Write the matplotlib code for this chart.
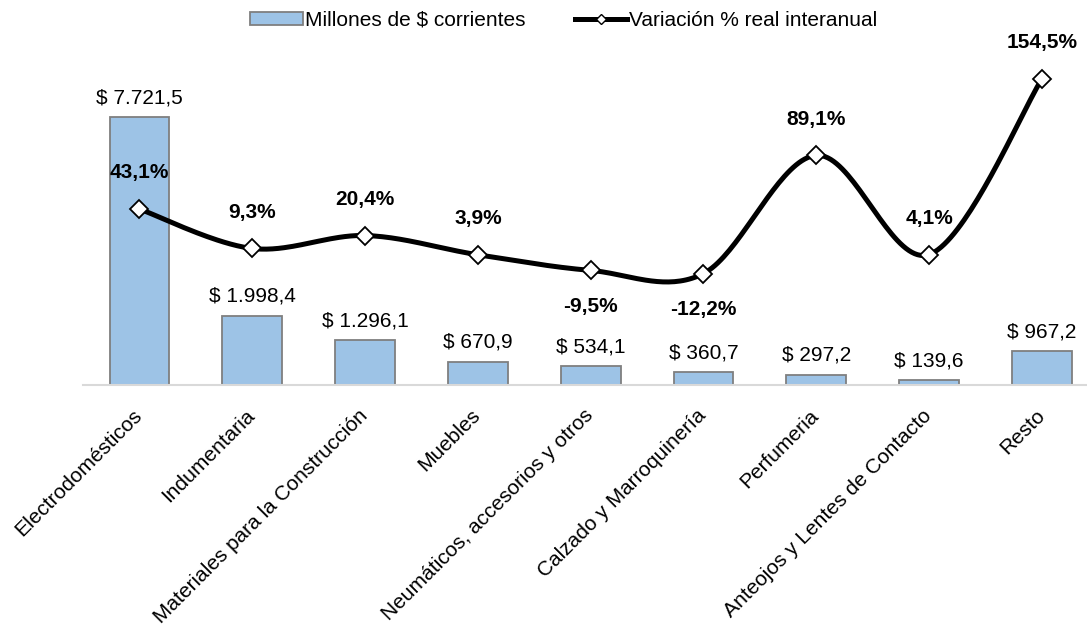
import numpy as np
import matplotlib
matplotlib.use("Agg")
import matplotlib.pyplot as plt
import matplotlib.transforms as mtransforms
from matplotlib.patches import Patch
from matplotlib.lines import Line2D

plt.rcParams["font.family"] = ["Liberation Sans", "DejaVu Sans"]

categories = ["Electrodomésticos", "Indumentaria", "Materiales para la Construcción",
              "Muebles", "Neumáticos, accesorios y otros", "Calzado y Marroquinería",
              "Perfumeria", "Anteojos y Lentes de Contacto", "Resto"]
millones = [7721.5, 1998.4, 1296.1, 670.9, 534.1, 360.7, 297.2, 139.6, 967.2]
variacion = [43.1, 9.3, 20.4, 3.9, -9.5, -12.2, 89.1, 4.1, 154.5]

bar_labels = ["$ 7.721,5", "$ 1.998,4", "$ 1.296,1", "$ 670,9", "$ 534,1",
              "$ 360,7", "$ 297,2", "$ 139,6", "$ 967,2"]
var_labels = ["43,1%", "9,3%", "20,4%", "3,9%", "-9,5%", "-12,2%", "89,1%", "4,1%", "154,5%"]
var_below = [False, False, False, False, True, True, False, False, False]

FS = 15


def smooth(xs, ys, n=40):
    # Excel-like smoothed line: cubic bezier with Catmull-Rom control points
    xs = np.asarray(xs, float)
    ys = np.asarray(ys, float)
    px = np.concatenate([[xs[0]], xs, [xs[-1]]])
    py = np.concatenate([[ys[0]], ys, [ys[-1]]])
    out_x, out_y = [], []
    t = np.linspace(0, 1, n)
    for i in range(1, len(px) - 2):
        p0 = np.array([px[i], py[i]])
        p3 = np.array([px[i + 1], py[i + 1]])
        c1 = p0 + (np.array([px[i + 1], py[i + 1]]) - np.array([px[i - 1], py[i - 1]])) / 6
        c2 = p3 - (np.array([px[i + 2], py[i + 2]]) - np.array([px[i], py[i]])) / 6
        b = ((1 - t) ** 3)[:, None] * p0 + (3 * (1 - t) ** 2 * t)[:, None] * c1 \
            + (3 * (1 - t) * t ** 2)[:, None] * c2 + (t ** 3)[:, None] * p3
        out_x.extend(b[:, 0])
        out_y.extend(b[:, 1])
    return out_x, out_y


fig = plt.figure(figsize=(10.87, 6.26), dpi=100)
ax = fig.add_axes([83 / 1087, 1 - 385 / 626, 1 - 83 / 1087, 325 / 626])
x = np.arange(len(categories))

ax.bar(x, millones, width=0.53, color="#9DC3E6", edgecolor="#7F7F7F", linewidth=1.3, zorder=2)
ax.set_ylim(0, 9366)
ax.set_xlim(-0.5, 8.4)
for xi, v, lab in zip(x, millones, bar_labels):
    ax.annotate(lab, (xi, v), xytext=(0, 7), textcoords="offset points",
                ha="center", va="bottom", fontsize=FS)

ax.set_yticks([])
for s in ["top", "right", "left"]:
    ax.spines[s].set_visible(False)
ax.spines["bottom"].set_color("#D9D9D9")
ax.spines["bottom"].set_linewidth(1.5)
ax.set_xticks(x)
ax.set_xticklabels(categories, rotation=45, ha="right", rotation_mode="anchor", fontsize=FS)
ax.tick_params(axis="x", length=0, pad=15)
shift = mtransforms.ScaledTranslation(-7 / 100, 0, fig.dpi_scale_trans)
for lbl in ax.get_xticklabels():
    lbl.set_transform(lbl.get_transform() + shift)

ax2 = ax.twinx()
ax2.set_ylim(-107.7, 170.8)
ax2.set_yticks([])
for s in ax2.spines.values():
    s.set_visible(False)
sx, sy = smooth(x, variacion)
ax2.plot(sx, sy, color="black", linewidth=3.6, solid_capstyle="round", zorder=3)
ax2.plot(x, variacion, linestyle="none", marker="D", markersize=9.5,
         markerfacecolor="white", markeredgecolor="black", markeredgewidth=1.3, zorder=4)
for xi, v, lab, below in zip(x, variacion, var_labels, var_below):
    ax2.annotate(lab, (xi, v), xytext=(0, -26 if below else 26), textcoords="offset points",
                 ha="center", va="center", fontsize=FS, fontweight="bold")

handles = [Patch(facecolor="#9DC3E6", edgecolor="#7F7F7F", linewidth=1.3),
           Line2D([], [], color="black", linewidth=3.6, marker="D", markersize=5,
                  markerfacecolor="white", markeredgecolor="black")]
fig.legend(handles, ["Millones de $ corrientes", "Variación % real interanual"],
           loc="center", bbox_to_anchor=(564 / 1087, 1 - 20 / 626), ncol=2, frameon=False,
           fontsize=FS, handlelength=2.5, handleheight=0.6, handletextpad=0.1,
           columnspacing=2.4)

fig.savefig("out.png", dpi=100)
